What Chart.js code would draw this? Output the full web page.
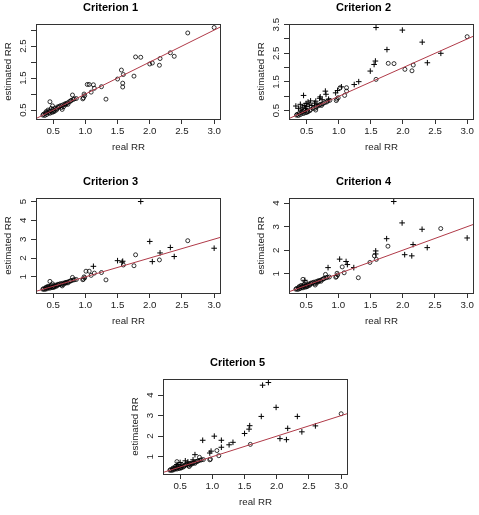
<!DOCTYPE html>
<html>
<head>
<meta charset="utf-8">
<script src="https://cdn.jsdelivr.net/npm/chart.js@4.4.0/dist/chart.umd.min.js"></script>
<style>
  html, body { margin: 0; padding: 0; background: #fff; overflow: hidden; }
  body { width: 479px; height: 515px; position: relative; }
  .panel { position: absolute; width: 226px; height: 160px; }
</style>
</head>
<body>
<div class="panel" style="left:0;top:0"><canvas id="c1" width="226" height="160"></canvas></div>
<div class="panel" style="left:253px;top:0"><canvas id="c2" width="226" height="160"></canvas></div>
<div class="panel" style="left:0;top:174px"><canvas id="c3" width="226" height="160"></canvas></div>
<div class="panel" style="left:253px;top:174px"><canvas id="c4" width="226" height="160"></canvas></div>
<div class="panel" style="left:127px;top:355px"><canvas id="c5" width="226" height="160"></canvas></div>
<script>
// x = real RR, y = estimated RR
const xTicks = [0.5, 1, 1.5, 2, 2.5, 3]

// low real RR points that stay circles for criteria 1, 3, 4 and 5
const lowCircles = [
  [0.34, 0.34], [0.35, 0.37], [0.37, 0.33], [0.38, 0.40], [0.39, 0.45], [0.40, 0.36],
  [0.41, 0.44], [0.42, 0.50], [0.43, 0.41], [0.44, 0.47], [0.45, 0.76], [0.45, 0.40],
  [0.46, 0.47], [0.47, 0.55], [0.48, 0.43], [0.49, 0.63], [0.50, 0.52], [0.50, 0.44],
  [0.51, 0.48], [0.52, 0.46], [0.53, 0.56], [0.55, 0.50], [0.56, 0.54], [0.57, 0.60],
  [0.58, 0.58], [0.60, 0.62], [0.62, 0.64], [0.63, 0.58], [0.64, 0.52], [0.65, 0.66],
  [0.66, 0.60], [0.68, 0.69], [0.69, 0.66], [0.70, 0.70], [0.72, 0.72], [0.73, 0.68],
  [0.75, 0.76], [0.77, 0.78], [0.78, 0.80], [0.80, 0.97], [0.81, 0.83], [0.83, 0.85],
  [0.86, 0.86]
]

const crit1Circles = [
  [0.96, 0.85], [0.97, 0.88], [0.98, 1.00], [0.99, 0.95], [1.03, 1.30], [1.06, 1.30],
  [1.09, 1.06], [1.125, 1.29], [1.14, 1.18], [1.25, 1.23], [1.32, 0.84], [1.50, 1.47],
  [1.56, 1.75], [1.58, 1.34], [1.58, 1.22], [1.59, 1.61], [1.755, 1.56], [1.78, 2.16],
  [1.86, 2.15], [2.00, 1.94], [2.04, 1.97], [2.15, 1.90], [2.16, 2.11], [2.32, 2.29],
  [2.38, 2.18], [2.59, 2.91], [3.00, 3.08]
]

const crit2Circles = [
  [0.34, 0.34], [0.35, 0.37], [0.37, 0.33], [0.38, 0.40], [0.40, 0.36], [0.42, 0.45],
  [0.43, 0.41], [0.44, 0.47], [0.45, 0.40], [0.47, 0.50], [0.48, 0.43], [0.50, 0.44],
  [0.51, 0.48], [0.52, 0.46], [0.55, 0.50], [0.56, 0.54], [0.60, 0.58], [0.63, 0.58],
  [0.64, 0.52], [0.65, 0.63], [0.68, 0.67], [0.70, 0.70], [0.72, 0.72], [0.73, 0.68],
  [0.75, 0.74], [0.78, 0.78], [0.81, 0.80], [0.83, 0.84], [0.86, 0.86], [0.96, 0.85],
  [0.97, 0.90], [0.99, 0.95], [1.02, 1.30], [1.09, 1.03], [1.12, 1.30], [1.12, 1.18],
  [1.58, 1.59], [1.77, 2.15], [1.86, 2.14], [2.03, 1.94], [2.14, 1.89], [2.16, 2.09],
  [3.00, 3.08]
]
const crit2Crosses = [
  [0.33, 0.66], [0.37, 0.58], [0.40, 0.72], [0.41, 0.52], [0.43, 0.62], [0.45, 1.03],
  [0.46, 0.68], [0.48, 0.57], [0.49, 0.75], [0.50, 0.64], [0.52, 0.80], [0.54, 0.70],
  [0.56, 0.84], [0.58, 0.68], [0.62, 0.76], [0.64, 0.83], [0.66, 0.72], [0.70, 0.93],
  [0.71, 0.98], [0.74, 0.88], [0.79, 1.18], [0.80, 1.07], [0.84, 0.90], [0.95, 1.12],
  [0.98, 1.20], [1.04, 1.33], [1.24, 1.41], [1.31, 1.51], [1.49, 1.88], [1.55, 2.11],
  [1.57, 2.23], [1.58, 3.40], [1.75, 2.63], [1.99, 3.31], [2.30, 2.89], [2.38, 2.17],
  [2.59, 2.50]
]

const crit3Circles = [
  [0.96, 0.85], [0.97, 0.88], [0.98, 1.00], [0.99, 0.95], [1.01, 1.30], [1.06, 1.30],
  [1.09, 1.08], [1.14, 1.20], [1.25, 1.23], [1.32, 0.84], [1.59, 1.63], [1.755, 1.59],
  [1.78, 2.17], [2.15, 1.90], [2.59, 2.92]
]
const crit3Crosses = [
  [1.125, 1.56], [1.50, 1.86], [1.57, 1.78], [1.58, 1.83], [1.86, 5.00], [2.00, 2.88],
  [2.04, 1.81], [2.16, 2.27], [2.32, 2.56], [2.38, 2.08], [3.00, 2.52]
]

const crit4Circles = [
  [0.96, 0.85], [0.97, 0.88], [0.98, 1.02], [0.99, 0.95], [1.06, 1.29], [1.09, 1.04],
  [1.31, 0.83], [1.49, 1.48], [1.56, 1.76], [1.59, 1.61], [1.77, 2.17], [2.59, 2.92]
]
const crit4Crosses = [
  [0.48, 0.72], [0.84, 1.26], [1.02, 1.62], [1.12, 1.52], [1.14, 1.39], [1.24, 1.26],
  [1.58, 1.97], [1.58, 1.84], [1.75, 2.49], [1.86, 4.07], [1.99, 3.16], [2.03, 1.81],
  [2.14, 1.76], [2.16, 2.24], [2.30, 2.89], [2.38, 2.11], [3.00, 2.52]
]

const crit5Circles = [
  [0.96, 0.85], [0.97, 0.88], [1.07, 1.30], [1.10, 1.05], [1.59, 1.60], [3.00, 3.09]
]
const crit5Crosses = [
  [0.45, 0.62], [0.50, 0.72], [0.58, 0.80], [0.62, 0.75], [0.70, 0.85], [0.73, 1.10],
  [0.85, 1.80], [0.96, 1.18], [0.98, 1.27], [1.03, 2.00], [1.14, 1.80], [1.14, 1.46],
  [1.26, 1.58], [1.32, 1.70], [1.50, 2.13], [1.57, 2.34], [1.58, 2.51], [1.76, 2.96],
  [1.78, 4.48], [1.87, 4.61], [1.99, 3.40], [2.05, 1.88], [2.15, 1.83], [2.17, 2.38],
  [2.32, 2.96], [2.39, 2.21], [2.60, 2.50]
]

const FONT = "'Liberation Sans', Arial, sans-serif"
const INK = '#222'

// R style axis range: data range stretched by 4% on each side
const rRange = (vals) => {
  const lo = Math.min(...vals)
  const hi = Math.max(...vals)
  const d = (hi - lo) * 0.04
  return [lo - d, hi + d]
}

const boxPlugin = {
  id: 'box',
  afterDraw(chart) {
    const { ctx, chartArea: a } = chart
    ctx.save()
    ctx.strokeStyle = '#333'
    ctx.lineWidth = 1
    ctx.strokeRect(Math.round(a.left) + 0.5, Math.round(a.top) + 0.5,
      Math.round(a.right - a.left) - 1, Math.round(a.bottom - a.top))
    ctx.restore()
  }
}

function makePanel(id, title, circles, crosses, yTicks, yLabels, yDigits, yPad) {
  const pts = circles.concat(crosses)
  const [xMin, xMax] = rRange(pts.map(p => p[0]))
  const [yMin, yMax] = rRange(pts.map(p => p[1]))
  const toXY = p => ({ x: p[0], y: p[1] })

  new Chart(document.getElementById(id), {
    type: 'scatter',
    data: {
      datasets: [
        {
          type: 'line',
          data: [{ x: xMin, y: xMin }, { x: xMax, y: xMax }],
          borderColor: '#b03a48',
          borderWidth: 1,
          pointRadius: 0
        },
        {
          data: circles.map(toXY),
          pointStyle: 'circle',
          pointRadius: 2,
          borderColor: '#000',
          backgroundColor: 'rgba(0,0,0,0)',
          borderWidth: 0.8
        },
        {
          data: crosses.map(toXY),
          pointStyle: 'cross',
          pointRadius: 2.8,
          borderColor: '#000',
          borderWidth: 1
        }
      ]
    },
    options: {
      responsive: false,
      animation: false,
      events: [],
      layout: { padding: { left: 0, right: 5, top: 0, bottom: 0 } },
      plugins: {
        legend: { display: false },
        tooltip: { enabled: false },
        title: {
          display: true,
          text: title,
          color: '#000',
          font: { family: FONT, size: 11, weight: 'bold' },
          padding: { top: 1.5, bottom: 9.3 }
        }
      },
      scales: {
        x: {
          type: 'linear',
          min: xMin,
          max: xMax,
          afterBuildTicks: s => { s.ticks = xTicks.map(v => ({ value: v })) },
          afterFit: s => { s.height = 41 },
          ticks: {
            autoSkip: false,
            maxRotation: 0,
            padding: 1.5,
            color: INK,
            font: { family: FONT, size: 9.7 },
            callback: v => v.toFixed(1)
          },
          grid: { drawOnChartArea: false, drawTicks: true, tickLength: 5, color: '#333' },
          border: { display: false },
          title: {
            display: true,
            text: 'real RR',
            color: INK,
            font: { family: FONT, size: 9.7 },
            padding: { top: 0, bottom: 7.2 }
          }
        },
        y: {
          type: 'linear',
          min: yMin,
          max: yMax,
          afterBuildTicks: s => { s.ticks = yTicks.map(v => ({ value: v })) },
          afterFit: s => { s.width = 36 },
          ticks: {
            autoSkip: false,
            minRotation: 90,
            maxRotation: 90,
            crossAlign: 'center',
            padding: yPad,
            color: INK,
            font: { family: FONT, size: 9.7 },
            callback: v => yLabels.includes(v) ? v.toFixed(yDigits) : ''
          },
          grid: { drawOnChartArea: false, drawTicks: true, tickLength: 5, color: '#333' },
          border: { display: false },
          title: {
            display: true,
            text: 'estimated RR',
            color: INK,
            font: { family: FONT, size: 9.7 },
            padding: { top: 2.2, bottom: 0 }
          }
        }
      }
    },
    plugins: [boxPlugin]
  })
}

makePanel('c1', 'Criterion 1', lowCircles.concat(crit1Circles), [],
  [0.5, 1, 1.5, 2, 2.5, 3], [0.5, 1.5, 2.5], 1, 0.8)
makePanel('c2', 'Criterion 2', crit2Circles, crit2Crosses,
  [0.5, 1, 1.5, 2, 2.5, 3, 3.5], [0.5, 1.5, 2.5, 3.5], 1, 0.8)
makePanel('c3', 'Criterion 3', lowCircles.concat(crit3Circles), crit3Crosses,
  [1, 2, 3, 4, 5], [1, 2, 3, 4, 5], 0, 4.8)
makePanel('c4', 'Criterion 4', lowCircles.concat(crit4Circles), crit4Crosses,
  [1, 2, 3, 4], [1, 2, 3, 4], 0, 4.8)
makePanel('c5', 'Criterion 5', lowCircles.concat(crit5Circles), crit5Crosses,
  [1, 2, 3, 4], [1, 2, 3, 4], 0, 4.8)
</script>
</body>
</html>
